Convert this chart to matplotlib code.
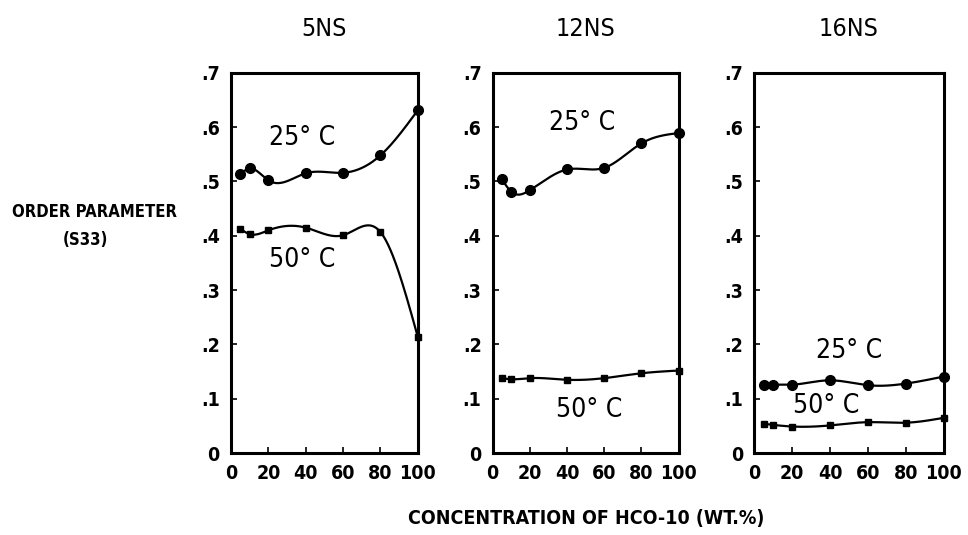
import numpy as np
import matplotlib
matplotlib.use("Agg")
import matplotlib.pyplot as plt
from matplotlib import font_manager as fm

# pick a condensed sans font if one is installed
cond = [f for f in fm.fontManager.ttflist
        if ('narrow' in f.name.lower() or 'condensed' in f.name.lower()
            or str(f.stretch) in ('condensed', 'semi-condensed', '300', '400'))]
fam = None
for pref in ['Liberation Sans Narrow', 'DejaVu Sans', 'Roboto Condensed', 'Open Sans Condensed']:
    if any(f.name == pref for f in cond):
        fam = pref
        break
if fam is None and cond:
    fam = cond[0].name
if fam is None:
    fam = 'DejaVu Sans'
plt.rcParams['font.family'] = [fam, 'DejaVu Sans']
plt.rcParams['font.stretch'] = 'condensed'

conc = [5, 10, 20, 40, 60, 80, 100]
panels = ["5NS", "12NS", "16NS"]
s25 = {
    "5NS": [0.513, 0.524, 0.502, 0.515, 0.516, 0.548, 0.631],
    "12NS": [0.504, 0.481, 0.484, 0.522, 0.525, 0.570, 0.589],
    "16NS": [0.125, 0.126, 0.126, 0.134, 0.125, 0.128, 0.141],
}
s50 = {
    "5NS": [0.413, 0.403, 0.410, 0.415, 0.401, 0.407, 0.214],
    "12NS": [0.138, 0.136, 0.138, 0.135, 0.138, 0.147, 0.152],
    "16NS": [0.054, 0.052, 0.049, 0.051, 0.057, 0.056, 0.065],
}
yticks = [0, 0.1, 0.2, 0.3, 0.4, 0.5, 0.6, 0.7]
ytick_labels = ["0", ".1", ".2", ".3", ".4", ".5", ".6", ".7"]
xticks = [0, 20, 40, 60, 80, 100]
xtick_labels = ["0", "20", "40", "60", "80", "100"]
label_pos = {
    "5NS": [(38, 0.580), (38, 0.355)],
    "12NS": [(48, 0.607), (52, 0.080)],
    "16NS": [(50, 0.188), (38, 0.086)],
}


def natural_spline(x, y, n=300):
    x = np.asarray(x, float)
    y = np.asarray(y, float)
    m = len(x)
    h = np.diff(x)
    A = np.zeros((m, m))
    b = np.zeros(m)
    A[0, 0] = 1
    A[-1, -1] = 1
    for i in range(1, m - 1):
        A[i, i - 1] = h[i - 1]
        A[i, i] = 2 * (h[i - 1] + h[i])
        A[i, i + 1] = h[i]
        b[i] = 6 * ((y[i + 1] - y[i]) / h[i] - (y[i] - y[i - 1]) / h[i - 1])
    M = np.linalg.solve(A, b)
    xs = np.linspace(x[0], x[-1], n)
    idx = np.clip(np.searchsorted(x, xs) - 1, 0, m - 2)
    x0, x1 = x[idx], x[idx + 1]
    hh = x1 - x0
    t0 = x1 - xs
    t1 = xs - x0
    ys = (M[idx] * t0 ** 3 / (6 * hh) + M[idx + 1] * t1 ** 3 / (6 * hh)
          + (y[idx] / hh - M[idx] * hh / 6) * t0
          + (y[idx + 1] / hh - M[idx + 1] * hh / 6) * t1)
    return xs, ys


fig = plt.figure(figsize=(9.68, 5.35), dpi=100)
lefts = [0.2386, 0.509, 0.779]
widths = [0.193, 0.192, 0.196]
bottom, height = 0.153, 0.711

for name, l, w in zip(panels, lefts, widths):
    ax = fig.add_axes([l, bottom, w, height])
    for series, mk, ms in ((s25[name], 'o', 7), (s50[name], 's', 5)):
        xs, ys = natural_spline(conc, series)
        ax.plot(xs, ys, color='black', lw=1.6, clip_on=False)
        ax.plot(conc, series, linestyle='none', marker=mk, ms=ms,
                color='black', clip_on=False, zorder=5)
    (x1, y1), (x2, y2) = label_pos[name]
    ax.text(x1, y1, "25° C", fontsize=19, ha='center', va='center')
    ax.text(x2, y2, "50° C", fontsize=19, ha='center', va='center')
    ax.set_xlim(0, 100)
    ax.set_ylim(0, 0.7)
    ax.set_xticks(xticks)
    ax.set_xticklabels(xtick_labels, fontweight='bold')
    ax.set_yticks(yticks)
    ax.set_yticklabels(ytick_labels, fontweight='bold')
    ax.tick_params(direction='in', length=4, width=1.2, labelsize=14,
                   pad=8, top=False, right=False)
    for s in ax.spines.values():
        s.set_linewidth(2.2)
    fig.text(l + w / 2, 0.945, name, fontsize=18, ha='center', va='center')

fig.text(0.098, 0.603, "ORDER PARAMETER", fontsize=12, fontweight='bold',
         ha='center', va='center')
fig.text(0.088, 0.552, "(S33)", fontsize=12, fontweight='bold',
         ha='center', va='center')
fig.text(0.606, 0.03, "CONCENTRATION OF HCO-10 (WT.%)", fontsize=14,
         fontweight='bold', ha='center', va='center')

fig.savefig("out.png", dpi=100)
